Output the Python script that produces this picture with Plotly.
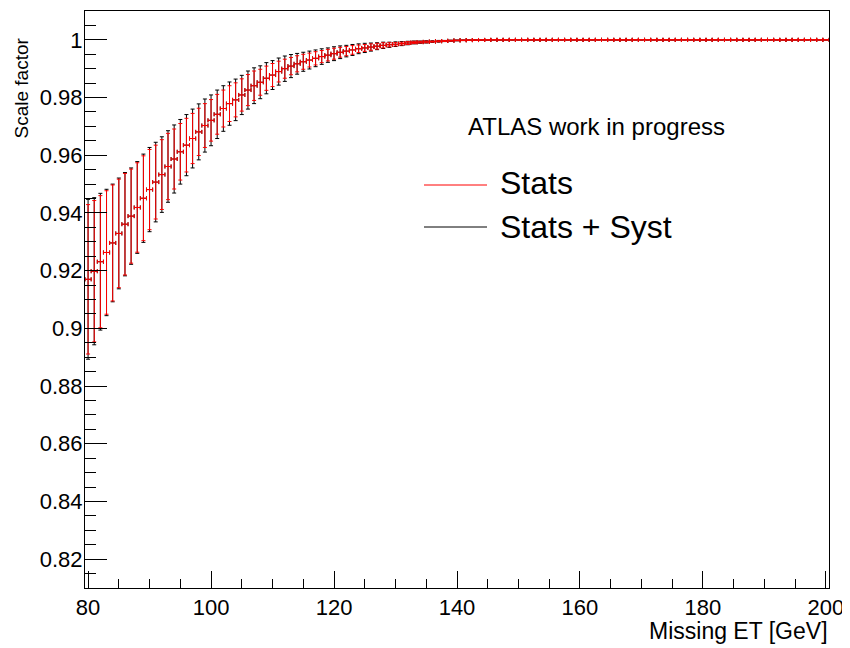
import plotly.graph_objects as go

# ---- data ----
met_bins = list(range(80, 201))

scale_factor = [
    0.9170, 0.9198, 0.9231, 0.9263, 0.9296, 0.9329, 0.9361, 0.9389, 0.9419, 0.9451,
    0.9481, 0.9507, 0.9533, 0.9561, 0.9587, 0.9612, 0.9635, 0.9658, 0.9681, 0.9703,
    0.9721, 0.9742, 0.9762, 0.9779, 0.9792, 0.9809, 0.9826, 0.9841, 0.9853, 0.9867,
    0.9878, 0.9890, 0.9900, 0.9909, 0.9917, 0.9924, 0.9930, 0.9936, 0.9942, 0.9947,
    0.9952, 0.9957, 0.9961, 0.9965, 0.9969, 0.9972, 0.9975, 0.9978, 0.9981, 0.9983,
    0.9985, 0.9987, 0.9989, 0.9991, 0.9992, 0.9993, 0.9994, 0.9995, 0.9996, 0.9997,
    0.9998, 0.99985, 0.9999, 0.99993, 0.99996, 0.99998, 1.0, 1.0, 1.0, 1.0,
    1.0, 1.0, 1.0, 1.0, 1.0, 1.0, 1.0, 1.0, 1.0, 1.0,
    1.0, 1.0, 1.0, 1.0, 1.0, 1.0, 1.0, 1.0, 1.0, 1.0,
    1.0, 1.0, 1.0, 1.0, 1.0, 1.0, 1.0, 1.0, 1.0, 1.0,
    1.0, 1.0, 1.0, 1.0, 1.0, 1.0, 1.0, 1.0, 1.0, 1.0,
    1.0, 1.0, 1.0, 1.0, 1.0, 1.0, 1.0, 1.0, 1.0, 1.0,
    1.0,
]

err_stat_syst = [
    0.0277, 0.0255, 0.0237, 0.0219, 0.0204, 0.0192, 0.0179, 0.0167, 0.0159, 0.0153,
    0.0146, 0.0138, 0.0131, 0.0124, 0.0118, 0.0112, 0.0106, 0.0102, 0.0097, 0.0092,
    0.0088, 0.0084, 0.0079, 0.0075, 0.0072, 0.0068, 0.0066, 0.0062, 0.0057, 0.0054,
    0.0050, 0.0047, 0.0044, 0.0040, 0.0036, 0.0033, 0.0031, 0.0029, 0.0027, 0.0025,
    0.0024, 0.0022, 0.0020, 0.0019, 0.0017, 0.0016, 0.0014, 0.0012, 0.0011, 0.0009,
    0.0008, 0.0007, 0.0006, 0.0005, 0.0004, 0.0004, 0.0003, 0.0003, 0.0002, 0.0002,
    0.00015, 0.0001, 0.0001, 0.00008, 0.00005, 0.00003, 0.00002, 0.0, 0.0, 0.0,
    0.0, 0.0, 0.0, 0.0, 0.0, 0.0, 0.0, 0.0, 0.0, 0.0,
    0.0, 0.0, 0.0, 0.0, 0.0, 0.0, 0.0, 0.0, 0.0, 0.0,
    0.0, 0.0, 0.0, 0.0, 0.0, 0.0, 0.0, 0.0, 0.0, 0.0,
    0.0, 0.0, 0.0, 0.0, 0.0, 0.0, 0.0, 0.0, 0.0, 0.0,
    0.0, 0.0, 0.0, 0.0, 0.0, 0.0, 0.0, 0.0, 0.0, 0.0,
    0.0,
]

err_stat = [
    0.0259, 0.0245, 0.0229, 0.0214, 0.0201, 0.0188, 0.0176, 0.0163, 0.0155, 0.0147,
    0.0139, 0.0128, 0.0121, 0.0115, 0.0104, 0.0098, 0.0093, 0.0087, 0.0082, 0.0076,
    0.0072, 0.0069, 0.0064, 0.0062, 0.0059, 0.0056, 0.0054, 0.0051, 0.0045, 0.0042,
    0.0040, 0.0036, 0.0033, 0.0030, 0.0028, 0.0026, 0.0024, 0.0023, 0.0021, 0.0020,
    0.0019, 0.0017, 0.0016, 0.0015, 0.0013, 0.0012, 0.0011, 0.0010, 0.0009, 0.0007,
    0.0006, 0.0005, 0.0005, 0.0004, 0.0003, 0.0003, 0.0002, 0.0002, 0.00015, 0.00015,
    0.0001, 0.0001, 0.00008, 0.00006, 0.00004, 0.00002, 0.0, 0.0, 0.0, 0.0,
    0.0, 0.0, 0.0, 0.0, 0.0, 0.0, 0.0, 0.0, 0.0, 0.0,
    0.0, 0.0, 0.0, 0.0, 0.0, 0.0, 0.0, 0.0, 0.0, 0.0,
    0.0, 0.0, 0.0, 0.0, 0.0, 0.0, 0.0, 0.0, 0.0, 0.0,
    0.0, 0.0, 0.0, 0.0, 0.0, 0.0, 0.0, 0.0, 0.0, 0.0,
    0.0, 0.0, 0.0, 0.0, 0.0, 0.0, 0.0, 0.0, 0.0, 0.0,
    0.0,
]

bin_half_width = 0.5

x_tick_vals = [80, 100, 120, 140, 160, 180, 200]
x_tick_text = ["80", "100", "120", "140", "160", "180", "200"]
y_tick_vals = [0.82, 0.84, 0.86, 0.88, 0.90, 0.92, 0.94, 0.96, 0.98, 1.00]
y_tick_text = ["0.82", "0.84", "0.86", "0.88", "0.9", "0.92", "0.94", "0.96", "0.98", "1"]

FONT = "Liberation Sans, Arial, Helvetica, sans-serif"

fig = go.Figure()

fig.add_trace(go.Scatter(
    x=met_bins, y=scale_factor, mode="markers", name="Stats + Syst",
    marker=dict(size=1, color="rgba(0,0,0,0)"),
    error_y=dict(type="data", array=err_stat_syst, symmetric=True,
                 color="black", thickness=1, width=2),
    error_x=dict(type="constant", value=bin_half_width, symmetric=True,
                 color="black", thickness=1, width=2),
    showlegend=False, hoverinfo="skip",
))
fig.add_trace(go.Scatter(
    x=met_bins, y=scale_factor, mode="markers", name="Stats",
    marker=dict(size=1, color="rgba(0,0,0,0)"),
    error_y=dict(type="data", array=err_stat, symmetric=True,
                 color="#ff0000", thickness=1, width=2),
    error_x=dict(type="constant", value=bin_half_width, symmetric=True,
                 color="#ff0000", thickness=1, width=2),
    showlegend=False, hoverinfo="skip",
))

# The page body has an 8 px margin, so the figure starts at (8, 8) on screen.
OFF = 8
SCREEN_W, SCREEN_H = 850, 648
W, H = SCREEN_W - OFF, SCREEN_H - OFF
PLOT_LEFT, PLOT_RIGHT, PLOT_TOP, PLOT_BOTTOM = 85, 829, 11, 588  # screen px
L = PLOT_LEFT - OFF
R = OFF + W - PLOT_RIGHT
T = PLOT_TOP - OFF
B = OFF + H - PLOT_BOTTOM
pw, ph = W - L - R, H - T - B

def px(xs):
    return (xs - PLOT_LEFT) / pw

def py(ys):
    return (PLOT_BOTTOM - ys) / ph

annotations = [
    dict(text="ATLAS work in progress", x=px(466), y=py(127), xref="paper", yref="paper",
         xanchor="left", yanchor="middle", showarrow=False,
         font=dict(family=FONT, size=24, color="black")),
    dict(text="Stats", x=px(498), y=py(183), xref="paper", yref="paper",
         xanchor="left", yanchor="middle", showarrow=False,
         font=dict(family=FONT, size=32, color="black")),
    dict(text="Stats + Syst", x=px(498), y=py(227), xref="paper", yref="paper",
         xanchor="left", yanchor="middle", showarrow=False,
         font=dict(family=FONT, size=32, color="black")),
    dict(text="Missing ET [GeV]", x=px(830), y=py(631), xref="paper", yref="paper",
         xanchor="right", yanchor="middle", showarrow=False,
         font=dict(family=FONT, size=23, color="black")),
    dict(text="Scale factor", x=px(21), y=py(36), xref="paper", yref="paper",
         xanchor="center", yanchor="top", textangle=-90, showarrow=False,
         font=dict(family=FONT, size=19, color="black")),
]

shapes = [
    dict(type="line", xref="paper", yref="paper", x0=px(424), x1=px(487),
         y0=py(185), y1=py(185), line=dict(color="#ff0000", width=1)),
    dict(type="line", xref="paper", yref="paper", x0=px(424), x1=px(487),
         y0=py(227), y1=py(227), line=dict(color="black", width=1)),
]

fig.update_layout(
    width=W, height=H,
    margin=dict(l=L, r=R, t=T, b=B, pad=0, autoexpand=False),
    paper_bgcolor="white", plot_bgcolor="white",
    font=dict(family=FONT, size=22, color="black"),
    showlegend=False,
    annotations=annotations,
    shapes=shapes,
    xaxis=dict(
        range=[79.5, 200.5], showgrid=False, zeroline=False,
        showline=True, linecolor="black", linewidth=1, mirror=True,
        ticks="inside", ticklen=17, tickcolor="black", tickwidth=1,
        tickvals=x_tick_vals, ticktext=x_tick_text,
        tickfont=dict(family=FONT, size=22, color="black"),
        minor=dict(dtick=5, tick0=80, ticks="inside", ticklen=9, tickcolor="black", showgrid=False),
        automargin=False,
    ),
    yaxis=dict(
        range=[0.81, 1.01], showgrid=False, zeroline=False,
        showline=True, linecolor="black", linewidth=1, mirror=True,
        ticks="inside", ticklen=22, tickcolor="black", tickwidth=1,
        tickvals=y_tick_vals, ticktext=y_tick_text,
        tickfont=dict(family=FONT, size=22, color="black"),
        ticklabelstandoff=-3,
        minor=dict(dtick=0.005, tick0=0.81, ticks="inside", ticklen=11, tickcolor="black", showgrid=False),
        automargin=False,
    ),
)

fig.write_html("out.html")
